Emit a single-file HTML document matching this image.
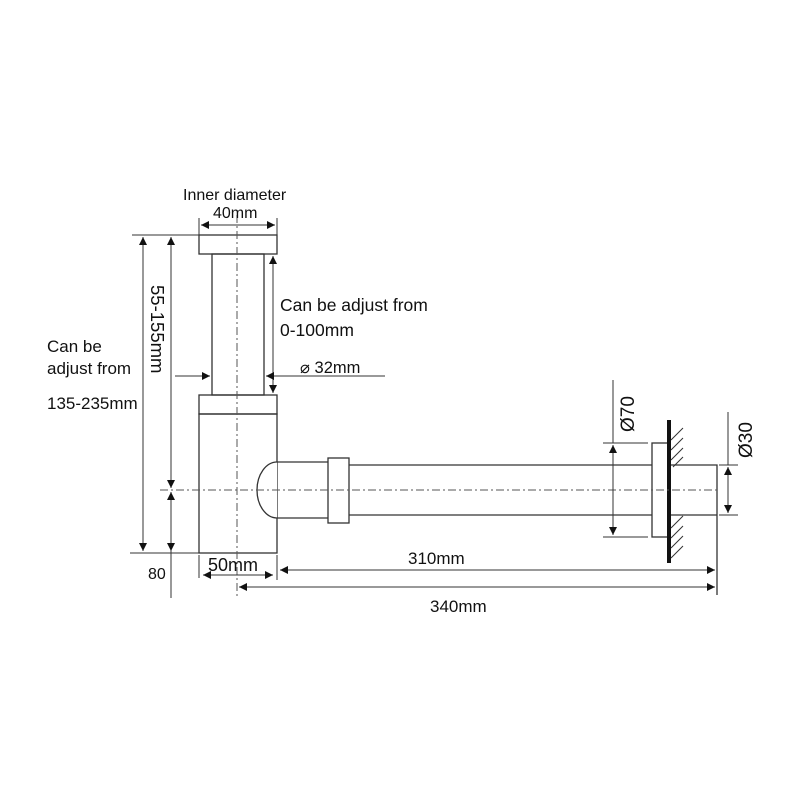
<!DOCTYPE html>
<html><head><style>body{margin:0;background:#fff}svg{display:block}text{font-family:"Liberation Sans",sans-serif;fill:#111}</style></head><body>
<svg width="800" height="800" viewBox="0 0 800 800" xmlns="http://www.w3.org/2000/svg">
<defs><marker id="a" viewBox="0 0 10 10" refX="10" refY="5" markerWidth="10" markerHeight="8" orient="auto-start-reverse" markerUnits="userSpaceOnUse"><path d="M0,0L10,5L0,10z" fill="#111"/></marker></defs>
<g stroke="#333" stroke-width="1.3" fill="none">
<rect x="199" y="235" width="78" height="19"/>
<rect x="212" y="254" width="52" height="141"/>
<rect x="199" y="395" width="78" height="19"/>
<rect x="199" y="414" width="78" height="139"/>
<path d="M277,462 L328,462 M277,518 L328,518" />
<path d="M277,462 A20,28 0 0 0 277,518" fill="#fff"/>
<rect x="328" y="458" width="21" height="65"/>
<path d="M349,465 L652,465 M349,515 L652,515"/>
<rect x="652" y="443" width="17" height="94"/>
<path d="M669,465 L717,465 L717,595 M669,515 L717,515"/>
</g>
<line x1="669" y1="420" x2="669" y2="563" stroke="#111" stroke-width="4"/>
<g stroke="#333" stroke-width="1">
<path d="M671,440 L683,428 M671,450 L683,438 M671,460 L683,448 M673,467 L683,457 M671,528 L683,516 M671,538 L683,526 M671,548 L683,536 M671,558 L683,546"/>
</g>
<g stroke="#555" stroke-width="1" stroke-dasharray="8,3,2,3" fill="none">
<line x1="160" y1="490" x2="717" y2="490"/>
<line x1="237" y1="215" x2="237" y2="598"/>
</g>
<g stroke="#333" stroke-width="1" fill="none">
<line x1="132" y1="235" x2="199" y2="235"/>
<line x1="130" y1="553" x2="199" y2="553"/>
<line x1="143" y1="237" x2="143" y2="551" marker-start="url(#a)" marker-end="url(#a)"/>
<line x1="171" y1="237" x2="171" y2="488" marker-start="url(#a)" marker-end="url(#a)"/>
<line x1="171" y1="492" x2="171" y2="551" marker-start="url(#a)" marker-end="url(#a)"/>
<line x1="171" y1="551" x2="171" y2="598"/>
<line x1="199" y1="218" x2="199" y2="235"/><line x1="277" y1="218" x2="277" y2="235"/>
<line x1="201" y1="225" x2="275" y2="225" marker-start="url(#a)" marker-end="url(#a)"/>
<line x1="273" y1="256" x2="273" y2="393" marker-start="url(#a)" marker-end="url(#a)"/>
<line x1="175" y1="376" x2="210" y2="376" marker-end="url(#a)"/>
<line x1="385" y1="376" x2="266" y2="376" marker-end="url(#a)"/>
<line x1="199" y1="555" x2="199" y2="578"/><line x1="277" y1="555" x2="277" y2="580"/>
<line x1="203" y1="575" x2="273" y2="575" marker-start="url(#a)" marker-end="url(#a)"/>
<line x1="280" y1="570" x2="715" y2="570" marker-start="url(#a)" marker-end="url(#a)"/>
<line x1="239" y1="587" x2="715" y2="587" marker-start="url(#a)" marker-end="url(#a)"/>
<line x1="603" y1="443" x2="648" y2="443"/><line x1="603" y1="537" x2="648" y2="537"/>
<line x1="613" y1="380" x2="613" y2="443"/>
<line x1="613" y1="445" x2="613" y2="535" marker-start="url(#a)" marker-end="url(#a)"/>
<line x1="719" y1="465" x2="738" y2="465"/><line x1="719" y1="515" x2="738" y2="515"/>
<line x1="728" y1="467" x2="728" y2="513" marker-start="url(#a)" marker-end="url(#a)"/>
<line x1="728" y1="412" x2="728" y2="465"/>
</g>
<text x="183" y="200" font-size="16">Inner diameter</text>
<text x="213" y="218" font-size="16">40mm</text>
<text x="280" y="311" font-size="17.5">Can be adjust from</text>
<text x="280" y="336" font-size="17.5">0-100mm</text>
<text x="300" y="373" font-size="16.5">⌀ 32mm</text>
<text x="47" y="352" font-size="17">Can be</text>
<text x="47" y="374" font-size="17">adjust from</text>
<text x="47" y="409" font-size="17">135-235mm</text>
<text transform="translate(151,285) rotate(90)" font-size="18.5">55-155mm</text>
<text x="148" y="579" font-size="16">80</text>
<text x="208" y="571" font-size="18">50mm</text>
<text x="408" y="564" font-size="17">310mm</text>
<text x="430" y="612" font-size="17">340mm</text>
<text transform="translate(634,432) rotate(-90)" font-size="19">Ø70</text>
<text transform="translate(752,458) rotate(-90)" font-size="19">Ø30</text>
</svg>
</body></html>
